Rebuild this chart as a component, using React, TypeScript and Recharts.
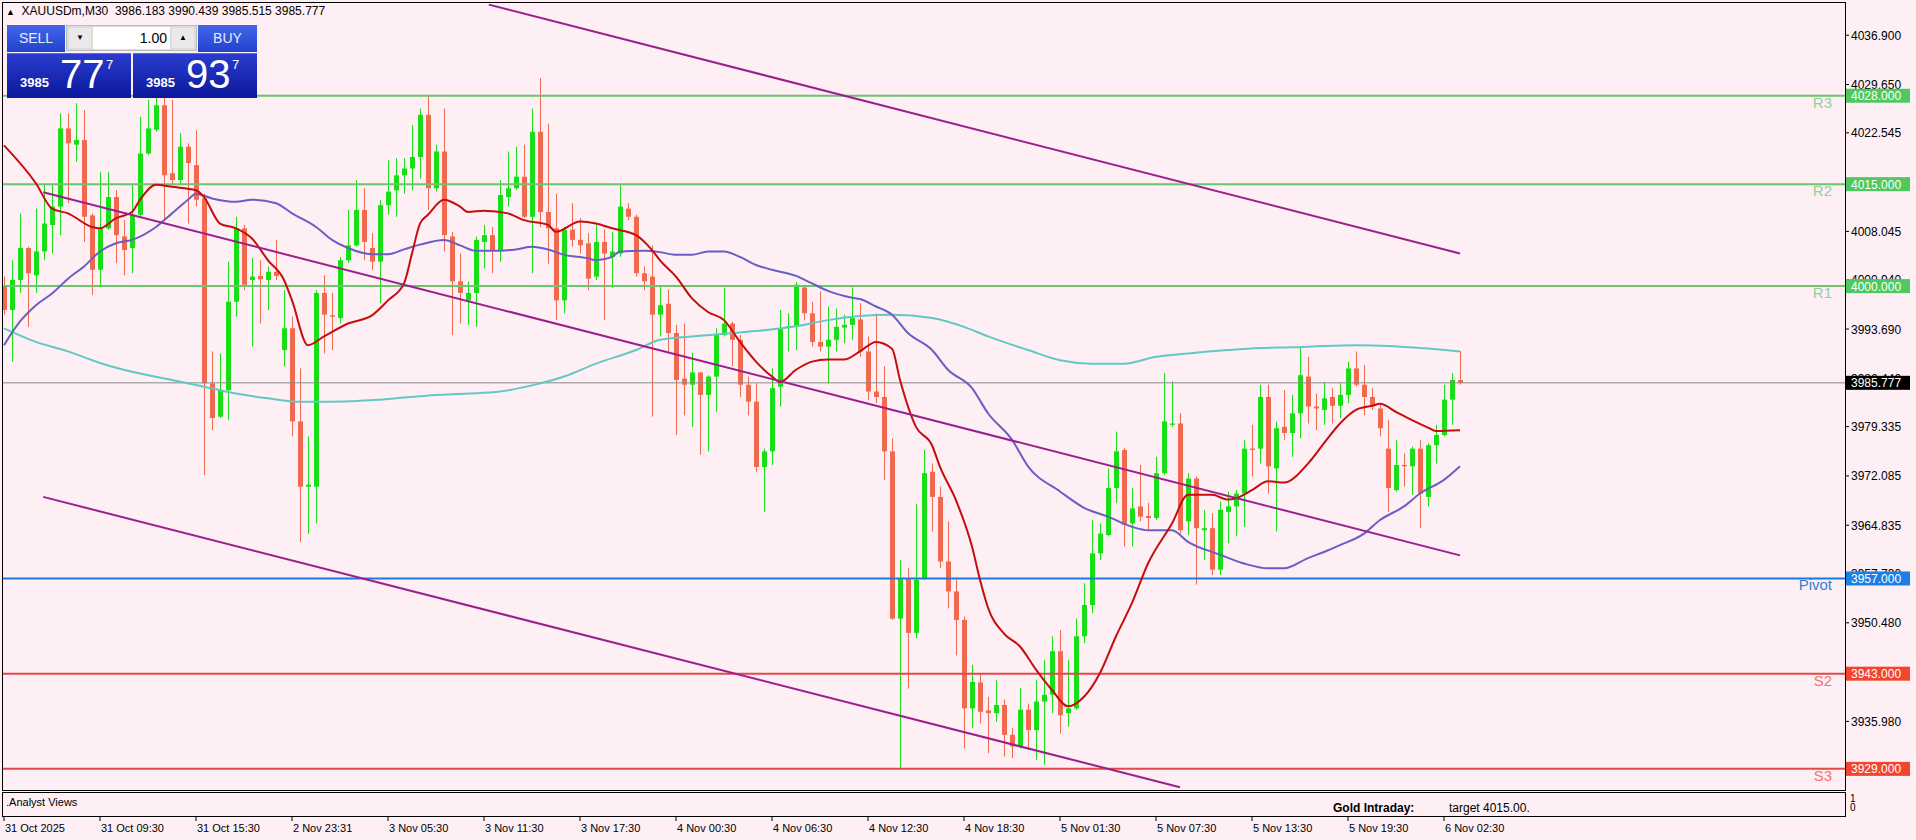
import { ComposedChart, Bar, Line, XAxis, YAxis, ReferenceLine } from 'recharts';

// XAUUSDm M30 bars: open, high, low, close
const ohlc: [number, number, number, number][] = [
  [3999.9, 4001.4, 3995.8, 3996.5], [3996.5, 4003.8, 3988.9, 4000.9], [4000.9, 4010.7, 3999.0, 4005.6],
  [4005.6, 4005.8, 3994.0, 4001.9], [4001.6, 4011.4, 3999.0, 4005.1], [4005.1, 4014.9, 4003.8, 4009.2],
  [4009.0, 4014.9, 4004.8, 4011.7], [4011.7, 4025.4, 4007.5, 4023.2], [4023.2, 4025.4, 4012.2, 4021.0],
  [4020.8, 4026.9, 4018.3, 4021.5], [4021.5, 4025.9, 4006.5, 4010.2], [4010.4, 4010.7, 3998.7, 4002.4],
  [4002.4, 4016.8, 3999.9, 4008.5], [4008.5, 4016.8, 4008.3, 4013.1], [4013.1, 4014.1, 4003.4, 4007.5],
  [4007.3, 4009.7, 4001.6, 4005.3], [4005.6, 4015.1, 4001.9, 4010.5], [4010.5, 4024.9, 4010.2, 4019.5],
  [4019.5, 4027.4, 4019.3, 4023.2], [4023.0, 4027.9, 4022.7, 4026.6], [4026.6, 4027.9, 4009.7, 4016.3],
  [4016.6, 4027.4, 4014.9, 4015.6], [4015.6, 4022.5, 4015.1, 4020.5], [4020.5, 4021.0, 4009.2, 4018.1],
  [4017.8, 4022.9, 4011.7, 4012.7], [4012.9, 4013.6, 3972.2, 3985.7], [3985.7, 3990.4, 3978.8, 3980.6],
  [3980.8, 3990.1, 3980.6, 3984.7], [3984.7, 4003.6, 3980.3, 3997.7], [3997.7, 4010.2, 3995.5, 4008.5],
  [4008.5, 4009.0, 3999.4, 4000.2], [4000.9, 4004.1, 3991.1, 4001.4], [4001.5, 4003.8, 3994.5, 4001.0],
  [4000.9, 4002.9, 3996.5, 4002.1], [4002.1, 4006.8, 4000.9, 4001.5], [3990.6, 3999.4, 3988.2, 3993.8],
  [3993.8, 3995.5, 3977.9, 3980.1], [3980.1, 3987.9, 3962.4, 3970.5], [3970.5, 3977.9, 3963.6, 3970.8],
  [3970.5, 3999.4, 3965.1, 3999.0], [3999.0, 4001.6, 3990.1, 3995.8], [3995.7, 3999.0, 3990.6, 3995.5],
  [3995.3, 4004.3, 3994.5, 4003.8], [4003.8, 4011.2, 4003.4, 4006.0], [4006.0, 4015.6, 4005.8, 4011.2],
  [4011.2, 4014.4, 4003.8, 4006.5], [4005.6, 4007.8, 4002.4, 4003.6], [4003.6, 4012.7, 3997.5, 4011.9],
  [4011.9, 4018.5, 4010.5, 4013.9], [4014.1, 4018.8, 4010.2, 4016.3], [4016.3, 4018.8, 4013.6, 4017.3],
  [4017.3, 4023.7, 4014.1, 4019.0], [4019.0, 4026.1, 4015.8, 4025.2], [4025.2, 4028.1, 4011.2, 4014.4],
  [4014.4, 4020.8, 4013.9, 4019.8], [4019.8, 4026.1, 4005.1, 4007.5], [4007.3, 4008.0, 3992.8, 4000.7],
  [4000.7, 4004.8, 3994.5, 3999.0], [3997.9, 4000.7, 3994.3, 3999.0], [3999.0, 4007.3, 3994.0, 4006.8],
  [4006.5, 4009.0, 4002.6, 4007.5], [4007.5, 4008.7, 4001.9, 4005.3], [4005.3, 4015.6, 4003.6, 4013.4],
  [4013.1, 4019.8, 4011.7, 4014.4], [4014.4, 4020.5, 4014.1, 4016.1], [4016.1, 4020.8, 4010.0, 4010.2],
  [4010.2, 4026.1, 4001.9, 4022.7], [4022.7, 4030.6, 4008.7, 4010.9], [4010.9, 4023.9, 4003.3, 4008.5],
  [4008.5, 4013.6, 3995.0, 3997.9], [3997.9, 4008.7, 3996.0, 4008.3], [4008.3, 4012.2, 4005.8, 4006.8],
  [4006.8, 4010.0, 4004.8, 4006.0], [4006.3, 4007.8, 3999.4, 4001.1], [4001.4, 4009.0, 4000.9, 4006.5],
  [4006.5, 4008.3, 3995.0, 4004.8], [4004.3, 4008.0, 3999.7, 4005.1], [4004.8, 4015.1, 4004.3, 4011.7],
  [4011.4, 4012.2, 4009.7, 4010.2], [4010.2, 4010.5, 4001.4, 4001.9], [4001.9, 4002.9, 3999.4, 4000.7],
  [4001.4, 4006.0, 3980.8, 3995.8], [3995.8, 4000.0, 3992.6, 3997.2], [3997.4, 3999.5, 3990.4, 3993.1],
  [3993.1, 3994.3, 3978.1, 3986.2], [3986.4, 3994.5, 3981.0, 3985.5], [3985.5, 3990.2, 3979.3, 3987.3],
  [3987.3, 3987.4, 3975.2, 3984.0], [3984.0, 3986.9, 3975.7, 3986.7], [3986.7, 3993.8, 3981.5, 3992.8],
  [3992.8, 3999.7, 3992.6, 3994.5], [3994.5, 3994.8, 3988.2, 3992.1], [3992.1, 3992.8, 3983.7, 3985.5],
  [3985.5, 3986.7, 3981.0, 3983.0], [3983.0, 3985.7, 3972.7, 3973.4], [3973.4, 3976.1, 3966.8, 3975.7],
  [3975.7, 3987.9, 3973.7, 3985.0], [3985.2, 3996.5, 3982.3, 3993.8], [3993.9, 3996.0, 3990.4, 3994.1],
  [3994.0, 4000.6, 3990.6, 4000.2], [3999.8, 4000.2, 3995.0, 3996.0], [3996.0, 3997.7, 3991.1, 3991.8],
  [3991.8, 3999.2, 3990.4, 3991.1], [3991.1, 3997.0, 3985.7, 3992.1], [3992.1, 3996.7, 3990.4, 3994.0],
  [3993.9, 3995.8, 3991.6, 3994.3], [3994.3, 3999.8, 3992.1, 3995.3], [3995.1, 3997.5, 3989.6, 3990.4],
  [3990.4, 3992.6, 3983.2, 3984.5], [3984.5, 3996.0, 3982.8, 3983.7], [3983.7, 3988.2, 3971.5, 3975.7],
  [3975.7, 3977.6, 3950.9, 3951.1], [3951.1, 3959.7, 3929.1, 3957.0], [3957.0, 3958.5, 3940.8, 3949.0],
  [3949.0, 3968.0, 3948.2, 3956.8], [3957.0, 3975.9, 3956.8, 3972.5], [3972.7, 3973.9, 3963.9, 3969.0],
  [3969.0, 3970.5, 3958.5, 3959.5], [3959.5, 3965.4, 3952.6, 3955.1], [3955.1, 3956.8, 3945.7, 3950.9],
  [3950.9, 3951.4, 3932.0, 3937.9], [3937.9, 3944.3, 3935.0, 3941.8], [3941.7, 3943.0, 3935.7, 3937.4],
  [3937.6, 3939.6, 3931.3, 3937.2], [3937.2, 3942.1, 3935.9, 3938.4], [3938.4, 3939.2, 3930.8, 3934.0],
  [3934.0, 3935.0, 3930.6, 3932.3], [3932.3, 3940.9, 3932.0, 3937.7], [3937.7, 3938.6, 3931.8, 3934.7],
  [3934.7, 3942.1, 3930.3, 3938.9], [3938.9, 3945.0, 3929.6, 3939.9], [3939.9, 3948.5, 3937.2, 3946.3],
  [3946.3, 3949.4, 3934.2, 3936.9], [3937.2, 3945.0, 3935.2, 3937.9], [3937.9, 3951.1, 3937.7, 3948.5],
  [3948.5, 3956.3, 3947.5, 3953.1], [3953.1, 3965.6, 3951.9, 3960.7], [3960.7, 3965.1, 3959.7, 3963.6],
  [3963.4, 3973.2, 3963.2, 3970.3], [3970.3, 3978.6, 3968.1, 3975.7], [3975.9, 3976.2, 3961.7, 3964.9],
  [3965.1, 3970.3, 3961.7, 3967.3], [3967.6, 3973.7, 3965.4, 3966.1], [3966.2, 3968.1, 3964.1, 3965.9],
  [3965.9, 3974.9, 3965.6, 3972.5], [3972.5, 3987.2, 3972.2, 3980.1], [3979.6, 3986.0, 3979.3, 3979.8],
  [3979.8, 3981.3, 3963.6, 3964.1], [3965.4, 3972.5, 3963.4, 3971.7], [3971.7, 3972.0, 3956.1, 3964.4],
  [3964.1, 3967.1, 3959.7, 3964.4], [3964.4, 3966.6, 3957.5, 3958.3], [3958.3, 3968.3, 3957.5, 3967.1],
  [3966.8, 3969.8, 3962.2, 3967.6], [3967.6, 3970.0, 3963.2, 3969.5], [3969.5, 3977.4, 3964.6, 3976.1],
  [3976.1, 3979.6, 3972.0, 3975.9], [3976.1, 3985.5, 3973.9, 3983.7], [3983.7, 3985.5, 3969.5, 3973.5],
  [3973.2, 3980.1, 3963.9, 3979.1], [3979.3, 3984.7, 3977.4, 3978.4], [3978.4, 3984.0, 3974.9, 3981.3],
  [3981.3, 3990.9, 3977.6, 3986.9], [3986.7, 3989.6, 3979.8, 3982.3], [3982.3, 3984.2, 3978.8, 3982.0],
  [3981.8, 3985.9, 3979.6, 3983.5], [3983.7, 3985.0, 3979.8, 3982.4], [3982.4, 3985.7, 3980.6, 3984.0],
  [3984.0, 3988.9, 3982.8, 3987.9], [3987.9, 3990.4, 3985.2, 3985.5], [3985.5, 3988.4, 3981.0, 3983.7],
  [3983.7, 3985.0, 3981.8, 3982.3], [3982.0, 3982.8, 3977.9, 3979.1], [3976.1, 3980.3, 3966.8, 3970.3],
  [3970.0, 3977.4, 3969.8, 3973.7], [3973.7, 3975.4, 3970.5, 3973.5], [3973.5, 3976.4, 3969.3, 3976.1],
  [3976.1, 3977.4, 3964.4, 3969.5], [3969.0, 3976.9, 3967.6, 3976.6], [3976.6, 3979.6, 3973.9, 3978.1],
  [3978.1, 3985.5, 3977.9, 3983.3], [3983.3, 3987.2, 3979.6, 3986.2], [3986.183, 3990.439, 3985.515, 3985.777],
];

const timeTickBars = [0, 12, 24, 36, 48, 60, 72, 84, 96, 108, 120, 132, 144, 156, 168, 180];
const timeTickLabels = [
  '31 Oct 2025', '31 Oct 09:30', '31 Oct 15:30', '2 Nov 23:31', '3 Nov 05:30', '3 Nov 11:30',
  '3 Nov 17:30', '4 Nov 00:30', '4 Nov 06:30', '4 Nov 12:30', '4 Nov 18:30', '5 Nov 01:30',
  '5 Nov 07:30', '5 Nov 13:30', '5 Nov 19:30', '6 Nov 02:30',
];

const priceTicks = [4036.9, 4029.65, 4022.545, 4008.045, 4000.94, 3993.69, 3986.44, 3979.335, 3972.085, 3964.835, 3957.73, 3950.48, 3935.98];
const levelNames = ['R3', 'R2', 'R1', 'Pivot', 'S2', 'S3'];
const levelValues = [4028, 4015, 4000, 3957, 3943, 3929];
const lastPrice = 3985.777;

// moving averages: [bar, price]
const fastMa: [number, number][] = [
  [0, 4020.7], [4, 4015.1], [6, 4011.4], [8, 4010.7], [11, 4008.7], [12, 4008.5], [14, 4010.0], [16, 4010.9],
  [17, 4012.7], [19, 4014.9], [21, 4014.6], [24, 4014.1], [25, 4013.1], [27, 4009.2], [29, 4008.5], [31, 4007.0],
  [33, 4003.8], [35, 4000.9], [36, 3997.9], [38, 3991.3], [40, 3992.6], [43, 3994.5], [46, 3995.7], [48, 3997.9],
  [50, 4000.4], [51, 4004.8], [52, 4009.2], [53, 4010.5], [55, 4012.7], [57, 4011.7], [58, 4010.9], [60, 4011.1],
  [63, 4010.7], [65, 4009.7], [68, 4009.0], [69, 4008.0], [72, 4009.5], [74, 4009.2], [76, 4008.5], [79, 4007.5],
  [81, 4005.3], [82, 4003.8], [84, 4001.4], [86, 3998.2], [88, 3996.2], [90, 3995.0], [92, 3991.8], [94, 3988.9],
  [96, 3986.7], [97, 3985.9], [99, 3987.7], [101, 3988.9], [103, 3989.2], [105, 3989.2], [107, 3990.4], [109, 3991.8],
  [111, 3990.8], [112, 3986.2], [114, 3979.3], [116, 3976.6], [117, 3973.4], [119, 3968.5], [121, 3961.7], [122, 3956.8],
  [123, 3952.7], [125, 3948.9], [127, 3947.0], [129, 3943.6], [131, 3940.6], [133, 3938.2], [135, 3939.6], [137, 3943.1],
  [139, 3948.5], [141, 3953.4], [143, 3959.2], [146, 3965.1], [148, 3969.3], [151, 3969.3], [153, 3968.6], [154, 3968.8],
  [156, 3970.0], [158, 3971.3], [160, 3971.1], [163, 3973.9], [165, 3976.9], [167, 3979.8], [169, 3981.8], [171, 3982.4],
  [172, 3982.7], [174, 3981.5], [176, 3980.3], [178, 3979.2], [179, 3978.7], [182, 3978.8],
];
const slowMa: [number, number][] = [
  [0, 3991.3], [2, 3994.8], [4, 3997.2], [6, 3998.9], [8, 4001.1], [10, 4002.9], [12, 4005.1], [14, 4006.3],
  [16, 4006.8], [19, 4008.7], [21, 4010.7], [23, 4012.7], [24, 4013.6], [26, 4012.9], [29, 4012.4], [31, 4012.7],
  [34, 4012.2], [36, 4010.7], [39, 4008.7], [41, 4006.8], [43, 4005.6], [46, 4004.7], [48, 4004.7], [50, 4005.4],
  [52, 4006.1], [55, 4006.8], [57, 4006.0], [59, 4005.2], [62, 4005.2], [64, 4005.4], [66, 4005.8], [68, 4005.4],
  [70, 4004.6], [73, 4004.1], [74, 4003.8], [76, 4004.3], [77, 4005.1], [80, 4005.2], [82, 4005.0], [84, 4004.6],
  [86, 4004.6], [88, 4005.1], [90, 4005.1], [92, 4004.3], [94, 4003.1], [96, 4002.4], [99, 4001.5], [101, 4000.4],
  [103, 3999.3], [106, 3998.3], [107, 3998.1], [109, 3997.0], [111, 3995.8], [113, 3993.1], [116, 3990.6], [118, 3987.7],
  [121, 3985.0], [123, 3981.3], [126, 3977.4], [128, 3973.5], [132, 3969.8], [135, 3967.4], [138, 3966.1], [141, 3964.6],
  [143, 3964.1], [146, 3964.1], [148, 3962.4], [152, 3960.5], [155, 3959.2], [158, 3958.5], [160, 3958.5], [163, 3960.0],
  [165, 3960.9], [167, 3961.9], [170, 3963.6], [172, 3965.6], [175, 3967.6], [177, 3969.5], [180, 3971.5], [182, 3973.5],
];
const longMa: [number, number][] = [
  [0, 3993.8], [4, 3991.8], [8, 3990.4], [12, 3988.7], [16, 3987.4], [21, 3986.2], [25, 3985.2], [29, 3984.2],
  [33, 3983.5], [37, 3983.0], [41, 3983.0], [47, 3983.3], [54, 3984.0], [58, 3984.2], [62, 3984.5], [66, 3985.4],
  [70, 3986.7], [74, 3988.6], [79, 3990.6], [82, 3992.1], [86, 3992.6], [91, 3993.1], [95, 3993.5], [99, 3994.1],
  [103, 3995.0], [107, 3995.6], [111, 3995.8], [116, 3995.3], [120, 3994.0], [123, 3992.6], [128, 3990.6], [132, 3989.1],
  [136, 3988.6], [140, 3988.6], [144, 3989.6], [148, 3990.1], [153, 3990.6], [157, 3990.9], [161, 3991.0], [165, 3991.2],
  [169, 3991.3], [173, 3991.2], [177, 3990.9], [182, 3990.4],
];

// channel trend lines: [bar, price] anchors
const channelUpper: [number, number][] = [[60.6, 4041.4], [182, 4004.8]];
const channelMid: [number, number][] = [[4.9, 4013.8], [182, 3960.4]];
const channelLow: [number, number][] = [[4.9, 3969.0], [147, 3926.3]];

const quote = ['3986.183', '3990.439', '3985.515', '3985.777'];

const BG = '#fdeff3';
const BULL = '#17de17';
const BEAR = '#f06a50';
const levelStyle: Record<string, { line: string; box: string; text: string; w: number }> = {
  R: { line: '#6cc46c', box: '#4fc95f', text: '#8ed39c', w: 2 },
  P: { line: '#1f78e0', box: '#1b7fe6', text: '#2f7fd6', w: 2 },
  S: { line: '#e0484a', box: '#f2452f', text: '#f07272', w: 2 },
};
const styleOf = (name: string) => levelStyle[name === 'Pivot' ? 'P' : name[0]];

const rows = ohlc.map(([o, h, l, c], i) => ({
  i, o, h, l, c, range: [l, h], fast: null as number | null, slow: null as number | null, long: null as number | null,
}));
fastMa.forEach(([i, v]) => { rows[i].fast = v; });
slowMa.forEach(([i, v]) => { rows[i].slow = v; });
longMa.forEach(([i, v]) => { rows[i].long = v; });

const Candle = (props: any) => {
  const { x, y, width, height, payload } = props;
  if (!payload) return null;
  const { o, h, l, c } = payload;
  const top = Math.min(y, y + height);
  const hh = Math.abs(height);
  const k = h > l ? hh / (h - l) : 0;
  const color = c >= o ? BULL : BEAR;
  const bTop = top + (h - Math.max(o, c)) * k;
  const bBot = top + (h - Math.min(o, c)) * k;
  const cx = Math.round(x + width / 2);
  return (
    <g>
      <line x1={cx + 0.5} x2={cx + 0.5} y1={top} y2={top + hh} stroke={color} strokeWidth={1} />
      <rect x={cx - 2} y={bTop} width={5} height={Math.max(bBot - bTop, 1)} fill={color} />
    </g>
  );
};

const TimeTick = (props: any) => {
  const { x, payload } = props;
  const label = timeTickLabels[timeTickBars.indexOf(payload.value)];
  return (
    <g>
      <line x1={x} x2={x} y1={816} y2={821} stroke="#000" />
      <text x={x + 1} y={832} fontSize={11} fill="#000" fontFamily="Liberation Sans">{label}</text>
    </g>
  );
};

const PriceTick = (props: any) => {
  const { x, y, payload } = props;
  const v = payload.value as number;
  const li = levelValues.indexOf(v);
  if (li >= 0 || v === lastPrice) {
    const fill = li >= 0 ? styleOf(levelNames[li]).box : '#000';
    return (
      <g>
        <rect x={x + 1} y={y - 7} width={64} height={14} fill={fill} />
        <text x={x + 6} y={y + 4.5} fontSize={12} fill="#fff" fontFamily="Liberation Sans">{v.toFixed(3)}</text>
      </g>
    );
  }
  return (
    <g>
      <line x1={x + 1} x2={x + 4} y1={y} y2={y} stroke="#000" />
      <text x={x + 6} y={y + 4.5} fontSize={12} fill="#000" fontFamily="Liberation Sans">{v.toFixed(3)}</text>
    </g>
  );
};

const LevelTag = (props: any) => {
  const { viewBox, name, color } = props;
  if (!viewBox) return null;
  return (
    <text x={viewBox.x + viewBox.width - 13} y={viewBox.y + 12} textAnchor="end" fontSize={15} fill={color} fontFamily="Liberation Sans">
      {name}
    </text>
  );
};

const seg = (p: [number, number][]) => p.map(([x, y]) => ({ x, y }));

function TradePanel() {
  const blue = 'linear-gradient(#4466ea, #2142cc)';
  const dark = 'linear-gradient(#2a3cd0, #0b189a)';
  const price = (big: string, sup: string, left: number) => (
    <div style={{ position: 'absolute', left, top: 53, width: 124, height: 44, background: dark, color: '#fff', borderTop: '1px solid #5a6ae0' }}>
      <span style={{ position: 'absolute', left: 13, top: 21, fontSize: 13, fontWeight: 'bold' }}>3985</span>
      <span style={{ position: 'absolute', left: 53, top: -2, fontSize: 40 }}>{big}</span>
      <span style={{ position: 'absolute', left: 99, top: 3, fontSize: 13 }}>{sup}</span>
    </div>
  );
  return (
    <div style={{ position: 'absolute', left: 0, top: 0, fontFamily: 'Liberation Sans' }}>
      <div style={{ position: 'absolute', left: 7, top: 25, width: 58, height: 27, background: blue, color: '#e4eaff', fontSize: 14, lineHeight: '27px', textAlign: 'center' }}>SELL</div>
      <div style={{ position: 'absolute', left: 66, top: 25, width: 131, height: 26, background: '#dcdcdc', border: '1px solid #bbb', boxSizing: 'border-box' }}>
        <div style={{ position: 'absolute', left: 2, top: 2, width: 22, height: 20, background: '#e9e9e9', fontSize: 8, lineHeight: '20px', textAlign: 'center' }}>▼</div>
        <div style={{ position: 'absolute', left: 26, top: 1, width: 77, height: 22, background: '#fff', fontSize: 14, lineHeight: '22px', textAlign: 'right', paddingRight: 3, boxSizing: 'border-box' }}>1.00</div>
        <div style={{ position: 'absolute', left: 105, top: 2, width: 22, height: 20, background: '#e9e9e9', fontSize: 8, lineHeight: '20px', textAlign: 'center' }}>▲</div>
      </div>
      <div style={{ position: 'absolute', left: 198, top: 25, width: 59, height: 27, background: blue, color: '#e4eaff', fontSize: 14, lineHeight: '27px', textAlign: 'center' }}>BUY</div>
      {price('77', '7', 7)}
      {price('93', '7', 133)}
    </div>
  );
}

export default function App() {
  return (
    <div style={{ position: 'absolute', left: 0, top: 0, width: 1916, height: 840, background: BG, overflow: 'hidden', fontFamily: 'Liberation Sans' }}>
      <ComposedChart width={1916} height={840} data={rows} margin={{ top: 3, right: 0, bottom: 0, left: 3 }}>
        <XAxis
          dataKey="i"
          type="number"
          domain={[-0.125, 230.125]}
          allowDataOverflow
          ticks={timeTickBars}
          interval={0}
          tick={TimeTick}
          axisLine={false}
          tickLine={false}
          height={51}
        />
        <YAxis
          orientation="right"
          type="number"
          domain={[3926.04, 4041.64]}
          allowDataOverflow
          ticks={[...priceTicks, ...levelValues, lastPrice]}
          interval={0}
          tick={PriceTick}
          tickSize={0}
          tickMargin={0}
          axisLine={false}
          tickLine={false}
          width={71}
        />
        <Bar dataKey="range" barSize={5} shape={Candle} isAnimationActive={false} />
        {levelNames.map((name, k) => {
          const s = styleOf(name);
          return (
            <ReferenceLine
              key={name}
              y={levelValues[k]}
              stroke={s.line}
              strokeWidth={s.w}
              label={<LevelTag name={name} color={s.text} />}
            />
          );
        })}
        <ReferenceLine y={lastPrice} stroke="#8a8a8a" strokeWidth={1} />
        <Line dataKey="long" type="monotone" connectNulls dot={false} stroke="#62c8c6" strokeWidth={2} isAnimationActive={false} />
        <Line dataKey="slow" type="monotone" connectNulls dot={false} stroke="#6a5ec6" strokeWidth={2} isAnimationActive={false} />
        <Line dataKey="fast" type="monotone" connectNulls dot={false} stroke="#c40e0e" strokeWidth={2} isAnimationActive={false} />
        {[channelUpper, channelMid, channelLow].map((p, k) => (
          <ReferenceLine key={k} segment={seg(p)} stroke="#9c1f8f" strokeWidth={2} ifOverflow="visible" />
        ))}
      </ComposedChart>

      {/* chart frames */}
      <div style={{ position: 'absolute', left: 2, top: 2, width: 1844, height: 789, border: '1px solid #000', boxSizing: 'border-box', pointerEvents: 'none' }} />
      <div style={{ position: 'absolute', left: 2, top: 792, width: 1844, height: 25, border: '1px solid #000', boxSizing: 'border-box', overflow: 'hidden' }}>
        <div style={{ position: 'absolute', left: 3, top: 3, fontSize: 11 }}>.Analyst Views</div>
        <div style={{ position: 'absolute', left: 1330, top: 8, fontSize: 12, fontWeight: 'bold' }}>Gold Intraday:</div>
        <div style={{ position: 'absolute', left: 1446, top: 8, fontSize: 12 }}>target 4015.00.</div>
      </div>
      <div style={{ position: 'absolute', left: 1850, top: 794, fontSize: 10, lineHeight: '9px' }}>1<br />0</div>

      {/* header */}
      <div style={{ position: 'absolute', left: 6, top: 4, fontSize: 12, color: '#000', whiteSpace: 'pre' }}>
        <span style={{ fontSize: 9 }}>▲</span>{'  XAUUSDm,M30  ' + quote.join(' ')}
      </div>
      <TradePanel />
    </div>
  );
}
